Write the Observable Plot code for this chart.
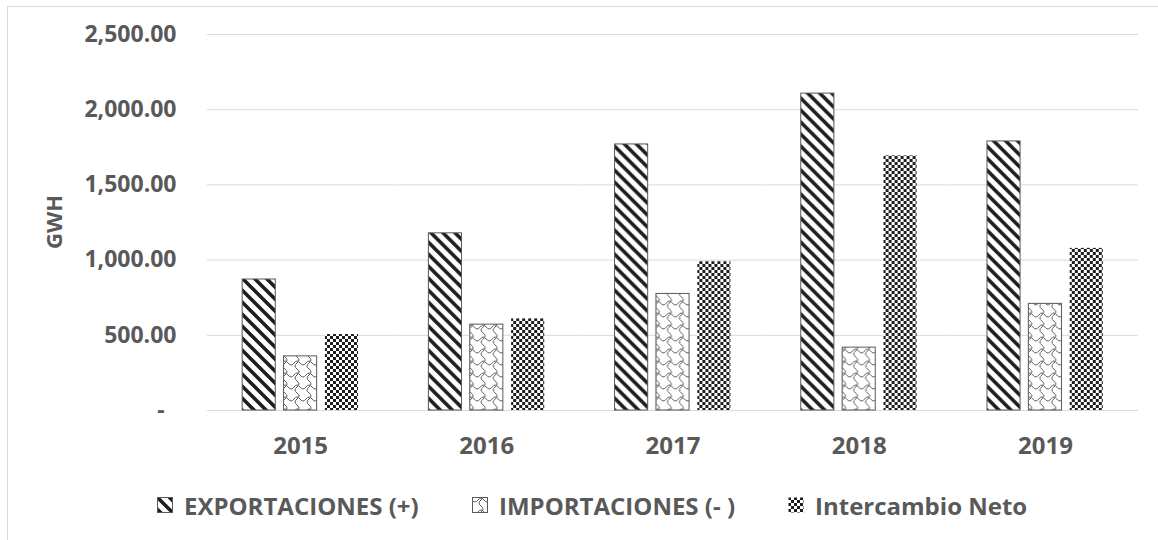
<!DOCTYPE html>
<html>
<head>
<meta charset="utf-8">
<script src="https://cdn.jsdelivr.net/npm/d3@7"></script>
<script src="https://cdn.jsdelivr.net/npm/@observablehq/plot@0.6"></script>
<style>
  html, body { margin: 0; padding: 0; background: #fff; }
  #wrap { position: relative; width: 1158px; height: 540px; overflow: hidden; background: #fff; font-family: "Open Sans", sans-serif; }
  #frame { position: absolute; left: 7px; top: 6px; width: 1300px; height: 700px; border-left: 1px solid #d9d9d9; border-top: 1px solid #d9d9d9; }
  #chart { position: absolute; left: 0; top: 0; }
  #ylabel { position: absolute; left: 53px; top: 222px; transform: translate(-50%, -50%) rotate(-90deg); font-size: 22px; font-weight: bold; color: #595959; white-space: nowrap; line-height: 1; }
  #legend { position: absolute; left: 0; top: 470px; width: 1158px; height: 70px; }
  .item { position: absolute; top: 20px; display: flex; align-items: center; height: 30px; font-size: 24px; font-weight: bold; color: #595959; white-space: nowrap; }
  .item svg { margin-right: 11px; display: block; }
</style>
</head>
<body>
<div id="wrap">
  <div id="frame"></div>
  <div id="chart"></div>
  <div id="ylabel"></div>
  <div id="legend"></div>
</div>
<script>
// ---- data ----
const years = ["2015", "2016", "2017", "2018", "2019"];
const series = ["EXPORTACIONES (+)", "IMPORTACIONES (- )", "Intercambio Neto"];
const exportaciones = [871, 1178, 1769, 2107, 1789];
const importaciones = [360, 571, 775, 418, 709];
const intercambioNeto = [505, 609, 989, 1693, 1078];
const yTicks = [0, 500, 1000, 1500, 2000, 2500];
const yLabel = "GWH";

const values = [exportaciones, importaciones, intercambioNeto];
const patternIds = ["pExp", "pImp", "pNet"];
const data = years.flatMap((year, i) => series.map((s, k) => ({year, series: s, value: values[k][i]})));

const fmt = d3.format(",.2f");

const chart = Plot.plot({
  width: 1158,
  height: 470,
  marginLeft: 207,
  marginRight: 20,
  marginTop: 34,
  marginBottom: 60,
  style: {fontFamily: "'Open Sans', sans-serif", fontSize: "23px", fontWeight: "bold", color: "#595959", background: "transparent", overflow: "visible"},
  facet: {data, x: "year", marginBottom: 60},
  fx: {domain: years, padding: 0, round: false, label: null, tickSize: 0, tickPadding: 26, axis: "bottom"},
  x: {domain: series, axis: null, paddingInner: 0.2, paddingOuter: 0.85, round: false},
  y: {domain: [0, 2500], ticks: yTicks, tickFormat: d => d === 0 ? "-\u00a0\u00a0" : fmt(d), tickSize: 0, tickPadding: 31, label: null},
  color: {domain: series, range: patternIds.map(id => `url(#${id})`)},
  marks: [
    Plot.ruleY(yTicks, {stroke: "#d9d9d9", strokeWidth: 1}),
    Plot.barY(data, {
      x: "series",
      y: "value",
      fill: "series",
      stroke: d => d.series === series[2] ? "none" : "#595959",
      strokeWidth: 1
    })
  ]
});

// pattern definitions
const defs = `
<defs>
  <pattern id="pExp" patternUnits="userSpaceOnUse" width="12" height="12">
    <rect width="12" height="12" fill="#fff"/>
    <path d="M-3,-3L15,15M-9,3L3,15M3,-9L15,3" stroke="#1e1e1e" stroke-width="3.6"/>
  </pattern>
  <pattern id="pImp" patternUnits="userSpaceOnUse" width="12" height="12">
    <rect width="12" height="12" fill="#fff"/>
    <path d="M0,3Q3,7 6,3T12,3M9,3Q5,6 9,9T9,15M9,-9Q5,-6 9,-3T9,3" fill="none" stroke="#5a5a5a" stroke-width="1"/>
  </pattern>
  <pattern id="pNet" patternUnits="userSpaceOnUse" width="6" height="6">
    <rect width="6" height="6" fill="#fff"/>
    <rect x="0" y="0" width="3" height="3" fill="#1e1e1e"/>
    <rect x="3" y="3" width="3" height="3" fill="#1e1e1e"/>
  </pattern>
</defs>`;
const svg = chart.tagName.toLowerCase() === "svg" ? chart : chart.querySelector("svg");
svg.insertAdjacentHTML("afterbegin", defs);
// year labels slightly larger than value labels, as in the reference
svg.querySelectorAll('[aria-label="fx-axis tick label"], [aria-label="fx-axis"]').forEach(g => g.setAttribute("font-size", "24"));
document.getElementById("chart").appendChild(chart);

document.getElementById("ylabel").textContent = yLabel;

// legend
const legendLefts = [157, 472, 788];
const legend = document.getElementById("legend");
series.forEach((s, k) => {
  const item = document.createElement("div");
  item.className = "item";
  item.style.left = legendLefts[k] + "px";
  item.innerHTML = `<svg width="16" height="16"><rect x="0.5" y="0.5" width="15" height="15" fill="url(#${patternIds[k]})" stroke="${k === 2 ? "none" : "#595959"}"/></svg><span>${s}</span>`;
  legend.appendChild(item);
});
</script>
</body>
</html>
